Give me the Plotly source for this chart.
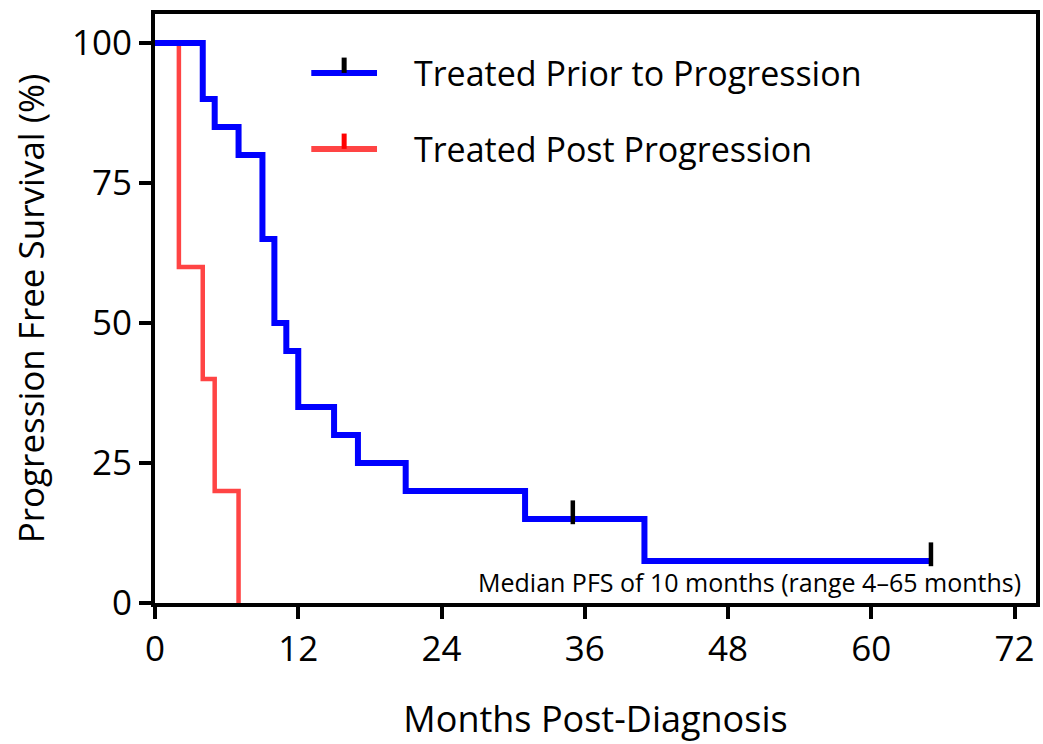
import plotly.graph_objects as go

# ---- data ----
prior_months = [0, 4, 5, 7, 9, 10, 11, 12, 15, 17, 21, 31, 41, 65]
prior_pfs = [100, 90, 85, 80, 65, 50, 45, 35, 30, 25, 20, 15, 7.5, 7.5]
prior_censor_months = [35, 65]
prior_censor_pfs = [15, 7.5]

post_months = [0, 2, 4, 5, 7]
post_pfs = [100, 60, 40, 20, 0]

x_ticks = [0, 12, 24, 36, 48, 60, 72]
y_ticks = [0, 25, 50, 75, 100]

series_names = ["Treated Prior to Progression", "Treated Post Progression"]
note_text = "Median PFS of 10 months (range 4\u201365 months)"
x_title = "Months Post-Diagnosis"
y_title = "Progression Free Survival (%)"

BLUE = "#0000FF"
RED = "#FF4444"
FONT = "Open Sans"

fig = go.Figure()
fig.add_trace(go.Scatter(x=post_months, y=post_pfs, mode="lines", line_shape="hv",
                         line=dict(color=RED, width=4.5), showlegend=False))
fig.add_trace(go.Scatter(x=prior_months, y=prior_pfs, mode="lines", line_shape="hv",
                         line=dict(color=BLUE, width=6), showlegend=False))
censor_lift = 1.2
fig.add_trace(go.Scatter(x=prior_censor_months, y=[v + censor_lift for v in prior_censor_pfs],
                         mode="markers", showlegend=False,
                         marker=dict(symbol="line-ns", size=17,
                                     line=dict(color="black", width=4.5))))

# ---- manual legend (shapes + text) ----
leg_x0, leg_x1, leg_xm = 0.1774, 0.252, 0.2147
leg_rows = [(0.900, BLUE, "black"), (0.771, RED, "#FF0000")]
shapes = []
annos = []
for (yy, lc, tc), name in zip(leg_rows, series_names):
    shapes.append(dict(type="line", xref="paper", yref="paper", x0=leg_x0, x1=leg_x1,
                       y0=yy, y1=yy, line=dict(color=lc, width=6)))
    shapes.append(dict(type="line", xref="paper", yref="paper", x0=leg_xm, x1=leg_xm,
                       y0=yy, y1=yy + 0.026, line=dict(color=tc, width=5)))
    annos.append(dict(xref="paper", yref="paper", x=0.2915, y=yy, xanchor="left",
                      yanchor="middle", text=name, showarrow=False,
                      font=dict(family=FONT, size=34, color="black")))

annos.append(dict(xref="paper", yref="paper", x=0.985, y=0.0, xanchor="right",
                  yanchor="bottom", yshift=2, text=note_text, showarrow=False,
                  font=dict(family=FONT, size=25, color="black")))

fig.update_layout(
    width=1043, height=744,
    margin=dict(l=155, r=3, t=14, b=141),
    paper_bgcolor="white", plot_bgcolor="white",
    font=dict(family=FONT, color="black"),
    shapes=shapes, annotations=annos,
    showlegend=False,
)
fig.update_xaxes(range=[0, 73.8], tickvals=x_ticks, ticks="outside", ticklen=12,
                 tickwidth=4, tickcolor="black", showline=True, linecolor="black",
                 linewidth=4, mirror=True, showgrid=False, zeroline=False,
                 tickfont=dict(family=FONT, size=35, color="black"),
                 title=dict(text=x_title, font=dict(family=FONT, size=36, color="black"),
                            standoff=38))
fig.update_yaxes(range=[0, 105.2], tickvals=y_ticks, ticks="outside", ticklen=12,
                 tickwidth=4, tickcolor="black", showline=True, linecolor="black",
                 linewidth=4, mirror=True, showgrid=False, zeroline=False,
                 tickfont=dict(family=FONT, size=35, color="black"),
                 title=dict(text=y_title, font=dict(family=FONT, size=35, color="black"),
                            standoff=18))

fig.write_html("out.html")
